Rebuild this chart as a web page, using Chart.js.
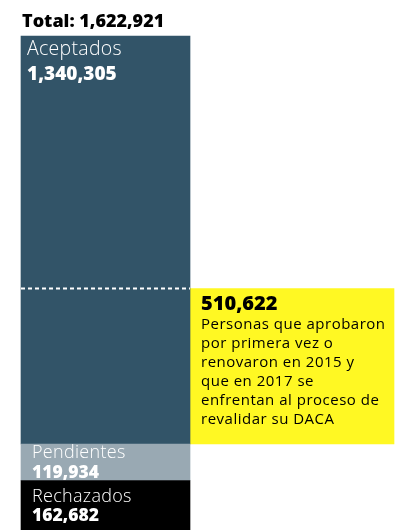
<!DOCTYPE html>
<html>
<head>
<meta charset="utf-8">
<script src="https://cdn.jsdelivr.net/npm/chart.js@4/dist/chart.umd.min.js"></script>
<style>
  html, body { margin: 0; padding: 0; background: #fff; }
  #wrap { width: 411px; height: 530px; position: relative; }
</style>
</head>
<body>
<div id="wrap"><canvas id="dacaChart"></canvas></div>
<script>
// datos
const categories = ['Solicitudes', 'Revalidar'];
const segmentNames = ['Rechazados', 'Pendientes', 'Aceptados'];
const segmentValues = [162682, 119934, 1340305];
const highlightValue = 510622;
const highlightText = [
  'Personas que aprobaron',
  'por primera vez o',
  'renovaron en 2015 y',
  'que en 2017 se',
  'enfrentan al proceso de',
  'revalidar su DACA'
];
const totalValue = 1622921;

const segmentColors = ['#000000', '#99a9b3', '#325468'];
const fmt = n => n.toLocaleString('en-US');

// el recuadro amarillo empieza donde terminan pendientes + rechazados
const highlightStart = segmentValues[0] + segmentValues[1];
const highlightEnd = highlightStart + highlightValue;

const datasets = segmentNames.map((name, i) => ({
  label: name,
  data: [segmentValues[i], null],
  backgroundColor: segmentColors[i],
  barThickness: 169,
  clip: false
}));
datasets.push({
  label: 'Revalidar',
  data: [null, [highlightStart, highlightEnd]],
  backgroundColor: '#fff823',
  barThickness: 204,
  clip: false
});

const labelPlugin = {
  id: 'labels',
  afterDatasetsDraw(chart) {
    const ctx = chart.ctx;
    const y = chart.scales.y;
    const bar = chart.getDatasetMeta(2).data[0];
    const barLeft = bar.x - bar.width / 2;
    const barRight = bar.x + bar.width / 2;
    ctx.save();

    // titulo
    ctx.fillStyle = '#000';
    ctx.textAlign = 'left';
    ctx.textBaseline = 'alphabetic';
    ctx.font = '800 18px "Open Sans"';
    ctx.fillText('Total: ' + fmt(totalValue), barLeft + 1, 27);

    // linea punteada
    const dashY = y.getPixelForValue(highlightEnd);
    ctx.strokeStyle = '#ffffff';
    ctx.lineWidth = 2;
    ctx.setLineDash([4, 3]);
    ctx.beginPath();
    ctx.moveTo(barLeft, dashY);
    ctx.lineTo(barRight, dashY);
    ctx.stroke();
    ctx.setLineDash([]);

    // etiquetas de los segmentos: [x, linea 1, linea 2, tamaño]
    const pads = [[11, 22, 41, 18], [11, 14, 34, 18], [6, 19, 44, 19.5]];
    segmentNames.forEach((name, i) => {
      const el = chart.getDatasetMeta(i).data[0];
      const top = el.y;
      const [px, n1, n2, fs] = pads[i];
      ctx.fillStyle = '#fff';
      ctx.letterSpacing = '0.3px';
      ctx.font = '300 ' + fs + 'px "Open Sans"';
      ctx.fillText(name, barLeft + px, top + n1);
      ctx.letterSpacing = '0px';
      ctx.font = '800 ' + (fs - 0.5) + 'px "Open Sans"';
      ctx.fillText(fmt(segmentValues[i]), barLeft + px, top + n2);
    });

    // texto del recuadro
    const hl = chart.getDatasetMeta(3).data[1];
    const hx = hl.x - hl.width / 2 + 11;
    const htop = Math.min(hl.y, hl.base);
    ctx.fillStyle = '#000';
    ctx.font = '800 20px "Open Sans"';
    ctx.fillText(fmt(highlightValue), hx, htop + 21);
    ctx.font = '400 15px "Open Sans"';
    ctx.letterSpacing = '0.5px';
    highlightText.forEach((line, i) => {
      ctx.fillText(line, hx, htop + 40 + i * 19);
    });
    ctx.restore();
  }
};

new Chart(document.getElementById('dacaChart'), {
  type: 'bar',
  data: { labels: categories, datasets: datasets },
  options: {
    responsive: true,
    maintainAspectRatio: false,
    animation: false,
    layout: { padding: { left: 12.25, right: 25.75, top: 36, bottom: 0 } },
    plugins: {
      legend: { display: false },
      tooltip: { enabled: false }
    },
    scales: {
      x: { display: false, stacked: true, offset: true },
      y: { display: false, stacked: true, min: 0, max: totalValue }
    },
    elements: { bar: { borderWidth: 0 } }
  },
  plugins: [labelPlugin]
});
</script>
</body>
</html>
